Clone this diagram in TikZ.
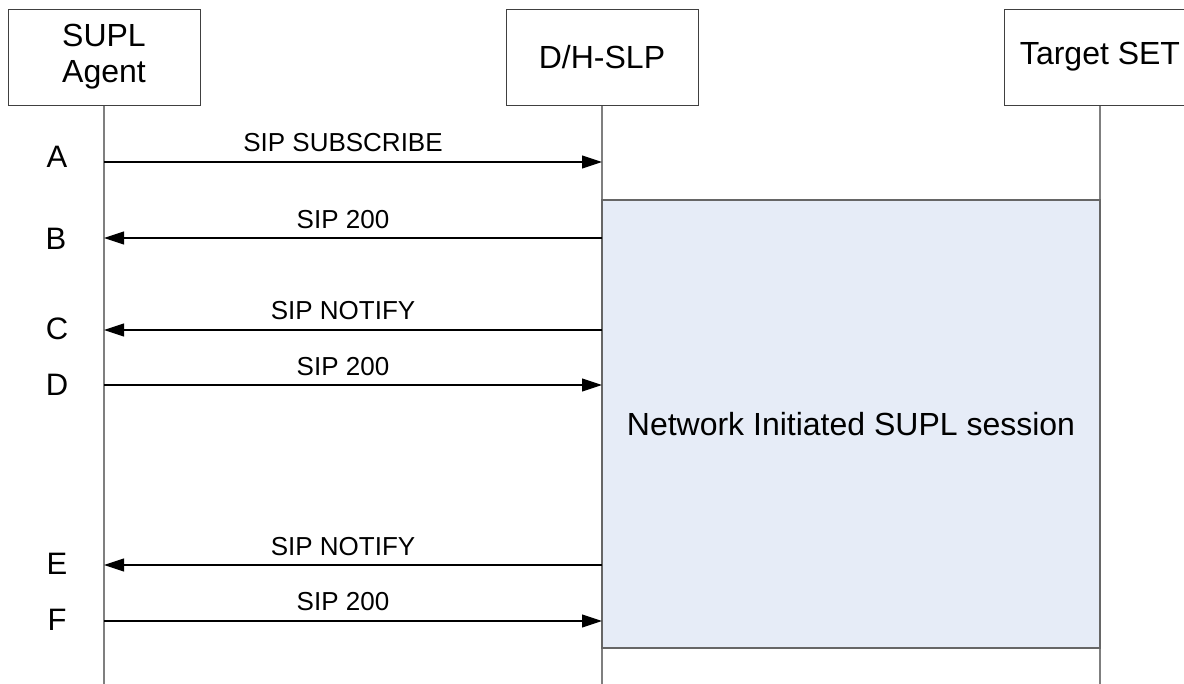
\documentclass[tikz,border=0pt]{standalone}
\usepackage{fontspec}
\setmainfont{Liberation Sans}
\usetikzlibrary{arrows.meta,calc}
\definecolor{sessfill}{HTML}{E6ECF7}
\definecolor{lifegray}{HTML}{7F7F7F}
\begin{document}
\begin{tikzpicture}[x=1pt,y=-1pt,
  entity/.style={draw=black!75, line width=0.9pt, fill=white, minimum width=192pt, minimum height=96pt, inner sep=0pt, align=center, font=\fontsize{32}{36}\selectfont},
  life/.style={draw=lifegray, line width=1.4pt},
  msg/.style={draw=black, line width=1.1pt, -{Triangle[length=20pt,width=13pt]}},
  lbl/.style={font=\fontsize{26}{30}\selectfont, inner sep=0pt, anchor=base},
  step/.style={}, 
  letter/.style={font=\fontsize{31}{34}\selectfont, inner sep=0pt}]
\useasboundingbox (0,0) rectangle (1184,684);
\clip (0,0) rectangle (1184,684);
\fill[white] (0,0) rectangle (1184,684);
% lifelines
\coordinate (agentEnd) at (104,684);
\coordinate (slpEnd) at (602,684);
\coordinate (setEnd) at (1100,684);
\draw[life] (104,105) -- (agentEnd);
\draw[life] (602,105) -- (slpEnd);
\draw[life] (1100,105) -- (setEnd);
% entity boxes
\node[entity] (agent) at (104,57) {SUPL\\Agent};
\node[entity] (slp) at (602,57) {D/H-SLP};
\node[entity] (set) at (1100,57) {Target SET};
% session box
\node[draw=black!60, line width=1.2pt, fill=sessfill, minimum width=498pt, minimum height=448pt, inner sep=0pt,
  font=\fontsize{32}{36}\selectfont] (sess) at (851,424) {Network Initiated SUPL session};
% message endpoints
\foreach \n/\y in {a/162,b/238,c/330,d/385,e/565,f/621}{
  \coordinate (\n L) at (104,\y);
  \coordinate (\n R) at (602,\y);
}
\draw[msg] (aL) -- (aR);
\draw[msg] (bR) -- (bL);
\draw[msg] (cR) -- (cL);
\draw[msg] (dL) -- (dR);
\draw[msg] (eR) -- (eL);
\draw[msg] (fL) -- (fR);
% message labels
\node[lbl] (la) at (343,152) {SIP SUBSCRIBE};
\node[lbl] (lb) at (343,229) {SIP 200};
\node[lbl] (lc) at (343,320) {SIP NOTIFY};
\node[lbl] (ld) at (343,376) {SIP 200};
\node[lbl] (le) at (343,555) {SIP NOTIFY};
\node[lbl] (lf) at (343,610) {SIP 200};
% step letters
\node[letter] (sa) at (57,157) {A};
\node[letter] (sb) at (56,239) {B};
\node[letter] (sc) at (57,329) {C};
\node[letter] (sd) at (57,385) {D};
\node[letter] (se) at (57,564) {E};
\node[letter] (sf) at (57,620) {F};
\end{tikzpicture}
\end{document}
